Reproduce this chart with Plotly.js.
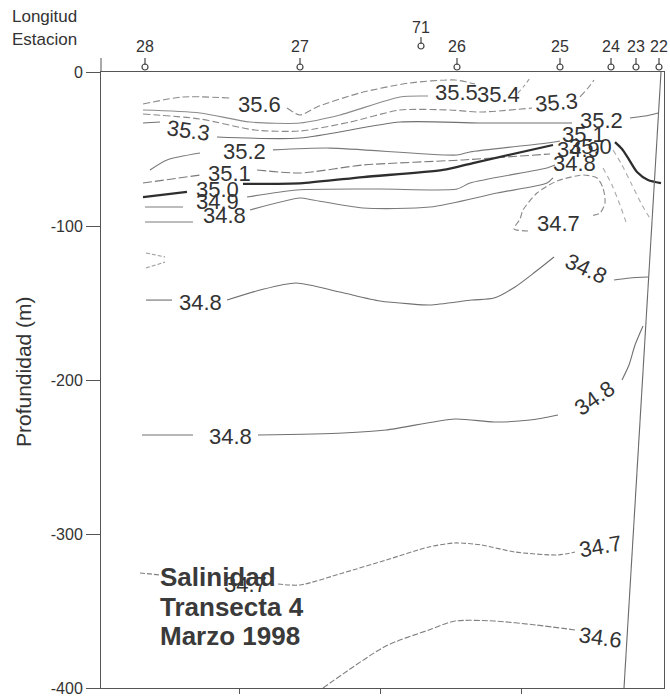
<!DOCTYPE html>
<html>
<head>
<meta charset="utf-8">
<script src="https://cdn.plot.ly/plotly-3.0.1.min.js"></script>
<style>html,body{margin:0;padding:0;background:#fff;}#chart{width:670px;height:698px;}</style>
</head>
<body>
<div id="chart"></div>
<script>
// ---------------- DATA ----------------
// Stations along the transect (distance units along the section)
const stations = ['28', '27', '71', '26', '25', '24', '23', '22'];
const stationX = [44, 199, 320, 356, 459, 510, 535, 558];
const depthTicks = [0, -100, -200, -300, -400];
const lonTicks = [138, 279, 420];

// Isohalines (x = distance, d = depth in m), null = gap where a label sits
const iso356X = [42, 82, 129, null, 186, 199, 216, 259, 309, 354, 374];
const iso356D = [-20.8, -16.2, -16.9, null, -23.4, -27.9, -22.7, -13.6, -7.1, -5.2, -7.8];
const iso355X = [42, 99, 149, 199, 239, 299, 327];
const iso355D = [-24.7, -26.6, -32.5, -33.1, -27.9, -16.2, -15.6];
const iso354X = [417, 423, 429];
const iso354D = [-13.6, -9.1, -3.9];
const iso353aX = [42, 99, 154, 199, 249, 299, 349, 379, 431, null, 479, 487, 493];
const iso353aD = [-27.3, -30.5, -37.7, -38.3, -32.5, -24.7, -24.7, -26.0, -23.4, null, -16.2, -10.4, -5.2];
const iso353bX = [42, 59, null, 116, 199, 299, 379, 471, null, 529, 544, 557];
const iso353bD = [-33.1, -32.5, null, -42.2, -42.9, -32.5, -33.1, -33.1, null, -29.9, -28.6, -26.6];
const iso352X = [49, 66, 99, null, 172, 229, 356, 369, 446, 459];
const iso352D = [-63.6, -57.1, -52.6, null, -50.6, -49.4, -53.9, -51.9, -46.1, -44.8];
const iso351X = [42, 99, null, 156, 199, 262, 362, 449];
const iso351D = [-72.1, -66.9, null, -63.6, -65.6, -60.4, -57.1, -53.2];
const iso350X = [42, 86, null, 142, 202, 262, 342, 372, 452, null, 514, 521, 527, 536, 547, 560];
const iso350D = [-81.2, -77.9, null, -72.7, -72.1, -68.2, -63.6, -59.1, -47.4, null, -45.5, -50.0, -55.8, -64.9, -70.1, -72.1];
const iso349X = [44, 82, null, 146, 196, 279, 356, 369, 446, 454];
const iso349D = [-87.7, -87.7, null, -81.2, -76.6, -76.0, -76.0, -72.1, -62.3, -60.4];
const iso348aX = [44, 92, null, 149, 199, 212, 262, 329, 396, 446, 452];
const iso348aD = [-97.4, -97.4, null, -89.6, -81.8, -83.1, -88.3, -87.7, -78.6, -72.1, -68.8];
const iso347aX = [427, 413, 419, 422, 436, 456, 482, 496, 502, 504, 499, 489];
const iso347aD = [-103.2, -101.9, -95.5, -89.6, -78.6, -70.8, -66.9, -68.8, -75.3, -85.1, -91.6, -93.5];
const smallX = [45, 64, null, 45, 64];
const smallD = [-117.5, -120.1, null, -127.3, -123.4];
const iso348bX = [45, 71, null, 126, 159, 195, 239, 279, 309, 329, 371, 393, 414, 434, 453, null, 513, 529, 547];
const iso348bD = [-148.1, -148.1, null, -148.1, -141.6, -137.0, -142.9, -148.7, -150.6, -151.3, -148.1, -146.8, -139.6, -129.9, -120.1, null, -135.1, -133.8, -133.1];
const iso348cX = [41, 92, null, 157, 242, 285, 354, 393, 429, 457, null, 521, 528, 534, 542];
const iso348cD = [-235.7, -235.7, null, -235.7, -234.4, -232.5, -225.3, -227.3, -226.0, -222.7, null, -200.0, -190.3, -177.3, -164.9];
const iso347bX = [39, 59, null, 177, 199, 242, 285, 328, 354, 380, 414, 457, 474];
const iso347bD = [-325.3, -326.6, null, -332.5, -333.1, -325.3, -316.9, -308.4, -305.8, -307.1, -311.7, -313.6, -311.7];
const iso346X = [222, 285, 328, 354, 393, 435, 474];
const iso346D = [-400, -372.7, -362.3, -356.5, -356.5, -359.1, -362.3];
const faint1X = [512, 521, 531, 541, 550];
const faint1D = [-50.6, -60.4, -73.4, -86.4, -96.1];
const faint2X = [502, 511, 519, 525];
const faint2D = [-62.3, -73.4, -86.4, -97.4];
const slopeX = [560, 523];
const slopeD = [0, -400];

// Contour labels
const labelText = ['35.6', '35.5', '35.4', '35.3', '35.3', '35.2', '35.2', '35.1', '35.0', '34.9', '34.8',
                   '35.1', '35.0', '34.9', '34.8', '34.7', '34.8', '34.8', '34.8', '34.8', '34.7', '34.7', '34.6'];
const labelX = [158, 355, 397, 455, 87, 143, 500, 128, 116, 116, 123,
                482, 489, 477, 473, 457, 99, 485, 129, 493, 144, 499, 499];
const labelDepth = [-20.8, -13.6, -14.9, -19.5, -37.7, -51.9, -31.8, -65.6, -76.0, -83.8, -92.9,
                    -40.9, -48.1, -50.6, -59.1, -98.1, -149.4, -127.3, -236.4, -211.7, -333.1, -307.8, -366.9];

const boxText = ['Salinidad', 'Transecta 4', 'Marzo 1998'];

// ---------------- STYLE ----------------
const FONT = 'Liberation Sans, Arial, Helvetica, sans-serif';
const labelAngle = [0, 0, 0, -5, 8, 0, 0, 0, 0, 0, 0,
                    0, 0, 0, 0, 0, 0, 25, 0, -35, 0, -10, 8];
const L = 101, R = 664, T = 10, B = 688, SURF = 72;   // page pixels
const px2paperX = p => (p - L) / (R - L);
const px2paperY = p => (B - p) / (B - T);
const mainTop = px2paperY(SURF);

function line(x, d, opts) {
  opts = opts || {};
  return {
    type: 'scatter', mode: 'lines', x: x, y: d, hoverinfo: 'skip',
    connectgaps: false,
    line: {color: opts.color || '#7a7a7a', width: opts.width || 1.1,
           dash: opts.dash || 'solid', shape: 'spline', smoothing: 0.7}
  };
}

const traces = [
  line(iso356X, iso356D, {dash: '7px,3px', color: '#8a8a8a'}),
  line(iso355X, iso355D, {color: '#8a8a8a'}),
  line(iso354X, iso354D, {dash: '4px,3px', color: '#999'}),
  line(iso353aX, iso353aD, {dash: '7px,3px', color: '#8a8a8a'}),
  line(iso353bX, iso353bD, {color: '#707070'}),
  line(iso352X, iso352D, {color: '#7a7a7a'}),
  line(iso351X, iso351D, {dash: '9px,3px', color: '#7a7a7a'}),
  line(iso350X, iso350D, {color: '#2e2e2e', width: 2.3}),
  line(iso349X, iso349D, {color: '#7a7a7a'}),
  line(iso348aX, iso348aD, {color: '#7a7a7a'}),
  line(iso347aX, iso347aD, {dash: '6px,3px', color: '#8a8a8a'}),
  line(smallX, smallD, {dash: '4px,2px', color: '#999'}),
  line(iso348bX, iso348bD, {color: '#707070'}),
  line(iso348cX, iso348cD, {color: '#707070'}),
  line(iso347bX, iso347bD, {dash: '5px,2px', color: '#808080'}),
  line(iso346X, iso346D, {dash: '6px,2px', color: '#808080'}),
  line(faint1X, faint1D, {dash: '5px,4px', color: '#aaa'}),
  line(faint2X, faint2D, {dash: '5px,4px', color: '#aaa'}),
  {type: 'scatter', mode: 'lines', x: slopeX, y: slopeD, hoverinfo: 'skip',
   line: {color: '#6a6a6a', width: 1.1}}
];

// station markers in a strip above the surface (y2 in pixel-like units above the surface)
const raised = s => s === '71';
traces.push({
  type: 'scatter', mode: 'markers', x: stationX, yaxis: 'y2',
  y: stations.map(s => raised(s) ? 26 : 5), hoverinfo: 'skip', cliponaxis: false,
  marker: {symbol: 'circle-open', size: 6, color: '#444', line: {width: 1.2, color: '#444'}}
});
traces.push({
  type: 'scatter', mode: 'markers', x: stationX, yaxis: 'y2',
  y: stations.map(s => raised(s) ? 31.5 : 10.5), hoverinfo: 'skip', cliponaxis: false,
  marker: {symbol: 'line-ns-open', size: 5, color: '#444', line: {width: 1.2, color: '#444'}}
});

const annotations = [];
stations.forEach((s, i) => {
  annotations.push({
    xref: 'x', yref: 'y2', x: stationX[i], y: raised(s) ? 45 : 26,
    text: s, showarrow: false, xanchor: 'center', yanchor: 'middle',
    font: {family: FONT, size: 16, color: '#333'}
  });
});
labelText.forEach((t, i) => {
  annotations.push({
    xref: 'x', yref: 'y', x: labelX[i], y: labelDepth[i], text: t,
    showarrow: false, xanchor: 'center', yanchor: 'middle', textangle: labelAngle[i],
    font: {family: FONT, size: 22, color: '#333'}
  });
});
annotations.push({xref: 'paper', yref: 'paper', x: px2paperX(10), y: px2paperY(16), text: 'Longitud',
  showarrow: false, xanchor: 'left', yanchor: 'middle', font: {family: FONT, size: 17, color: '#333'}});
annotations.push({xref: 'paper', yref: 'paper', x: px2paperX(10), y: px2paperY(40), text: 'Estacion',
  showarrow: false, xanchor: 'left', yanchor: 'middle', font: {family: FONT, size: 17, color: '#333'}});
annotations.push({xref: 'paper', yref: 'paper', x: px2paperX(23), y: px2paperY(372), text: 'Profundidad (m)',
  showarrow: false, textangle: -90, xanchor: 'center', yanchor: 'middle',
  font: {family: FONT, size: 21, color: '#333'}});
const boxY = [577, 607, 636];
boxText.forEach((t, i) => {
  annotations.push({xref: 'paper', yref: 'paper', x: px2paperX(158), y: px2paperY(boxY[i]), text: '<b>' + t + '</b>',
    showarrow: false, xanchor: 'left', yanchor: 'middle', font: {family: FONT, size: 26, color: '#3a3a3a'}});
});

const layout = {
  width: 670, height: 698,
  margin: {l: L, r: 670 - R, t: T, b: 698 - B, pad: 0},
  paper_bgcolor: '#fff', plot_bgcolor: 'rgba(0,0,0,0)', showlegend: false,
  xaxis: {range: [0, R - L], showgrid: false, zeroline: false, showline: true, mirror: true,
          linecolor: '#555', linewidth: 1, ticks: 'outside', tickvals: lonTicks, ticklen: 5,
          tickcolor: '#555', showticklabels: false, fixedrange: true, anchor: 'y'},
  yaxis: {domain: [0, mainTop], range: [-400, 0], showgrid: false, zeroline: false, showline: true, mirror: true,
          linecolor: '#555', linewidth: 1, ticks: 'outside', tickvals: depthTicks,
          ticktext: depthTicks.map(v => String(v)), ticklen: 14,
          tickcolor: '#555', tickfont: {family: FONT, size: 16, color: '#333'}, fixedrange: true},
  yaxis2: {domain: [mainTop, 1], range: [0, SURF - T], visible: false, fixedrange: true, anchor: 'x'},
  shapes: [{type: 'line', xref: 'paper', yref: 'paper', x0: 0, x1: 0,
            y0: mainTop, y1: px2paperY(58), line: {color: '#555', width: 1}}],
  annotations: annotations
};

Plotly.newPlot('chart', traces, layout, {displayModeBar: false, staticPlot: true});
</script>
</body>
</html>
